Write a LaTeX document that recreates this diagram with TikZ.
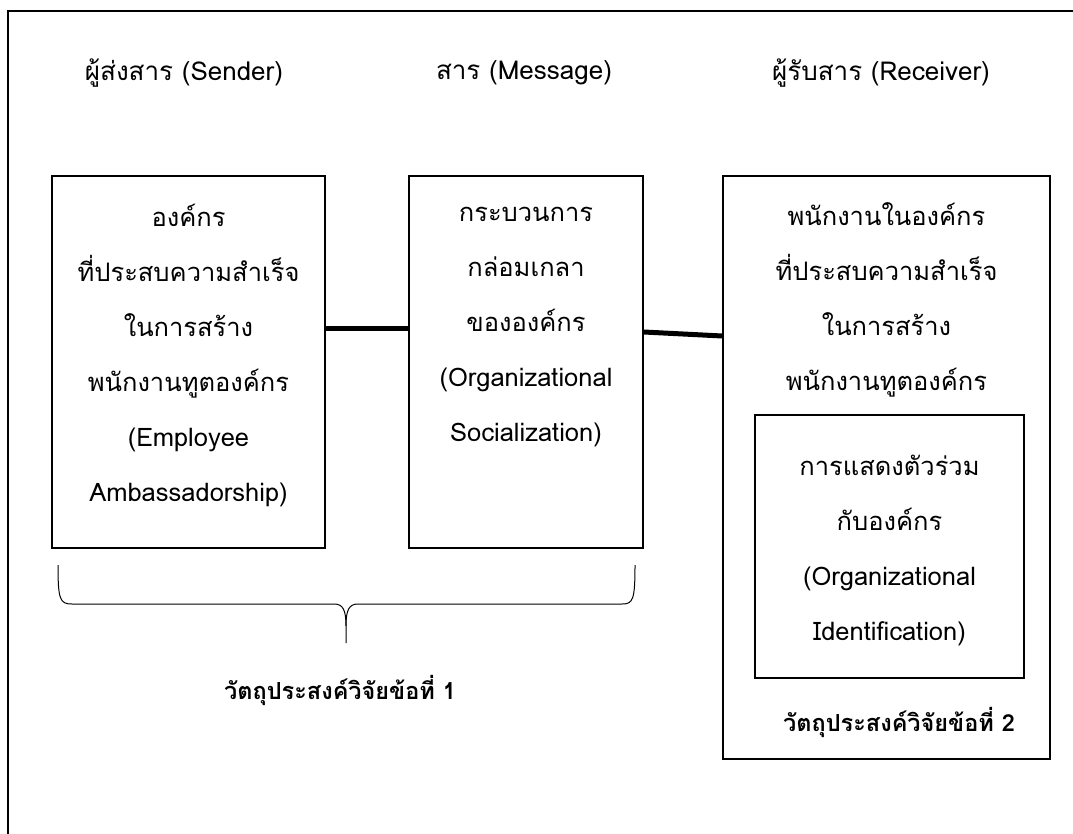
\documentclass[tikz,border=0pt]{standalone}
\usepackage{fontspec}
\newfontfamily\thaifont[Script=Thai]{Loma}
\usetikzlibrary{positioning,calc}

\begin{document}
\begin{tikzpicture}[x=1pt,y=-1pt,
  txt/.style={font=\thaifont\fontsize{25.5}{55}\selectfont, align=center, inner sep=0pt},
  head/.style={font=\thaifont\fontsize{26}{30}\selectfont, inner sep=0pt},
  goal/.style={font=\thaifont\bfseries\fontsize{23.5}{28}\selectfont, inner sep=0pt},
  box/.style={draw=black, line width=1.5pt, inner sep=0pt},
  link/.style={line width=5pt},
]
\useasboundingbox (0,0) rectangle (1073,834);

% ---- outer frame (cut at right and bottom) ----
\draw[line width=1.5pt] (8,850) |- (1090,11);

% ---- column heads ----
\node[head] (hsend) at (184,73) {ผู้ส่งสาร (Sender)};
\node[head] (hmsg)  at (524,73) {สาร (Message)};
\node[head] (hrecv) at (881,73) {ผู้รับสาร (Receiver)};

% ---- boxes ----
\node[box, minimum width=273, minimum height=372] (send) at (188.5,362) {};
\node[box, minimum width=234, minimum height=372] (msg)  at (526,362) {};
\node[box, minimum width=327, minimum height=583] (recv) at (886.5,467.5) {};
\node[box, minimum width=269, minimum height=263] (ident) at (889.5,546.5) {};

\node[txt] (sendtxt) at (188.5,355) {องค์กร\\ที่ประสบความสำเร็จ\\ในการสร้าง\\พนักงานทูตองค์กร\\(Employee\\Ambassadorship)};
\node[txt] (msgtxt) at (526,327) {กระบวนการ\\กล่อมเกลา\\ขององค์กร\\(Organizational\\Socialization)};
\node[txt] (recvtxt) at (886.5,300) {พนักงานในองค์กร\\ที่ประสบความสำเร็จ\\ในการสร้าง\\พนักงานทูตองค์กร};
\node[txt] (identtxt) at (889.5,550) {การแสดงตัวร่วม\\กับองค์กร\\(Organizational\\Identification)};

% ---- thick links ----
\draw[link] ($(send.east)+(0,-34)$) -- ($(msg.west)+(0,-34)$);
\draw[link] ($(msg.east)+(0,-30)$) -- ($(recv.west)+(0,-131.5)$);

% ---- brace under sender and message ----
\draw[line width=1pt] (58,565) .. controls (58,600) and (60,604) .. (72,604)
  -- (334,604) .. controls (343,604) and (346,610) .. (346,626) -- (346,643);
\draw[line width=1pt] (346,626) .. controls (346,610) and (349,604) .. (358,604)
  -- (622,604) .. controls (633,604) and (635,600) .. (635,565);

% ---- research objectives ----
\node[goal] (goal1) at (340,690) {วัตถุประสงค์วิจัยข้อที่ 1};
\node[goal] (goal2) at (899,722) {วัตถุประสงค์วิจัยข้อที่ 2};
\end{tikzpicture}
\end{document}
